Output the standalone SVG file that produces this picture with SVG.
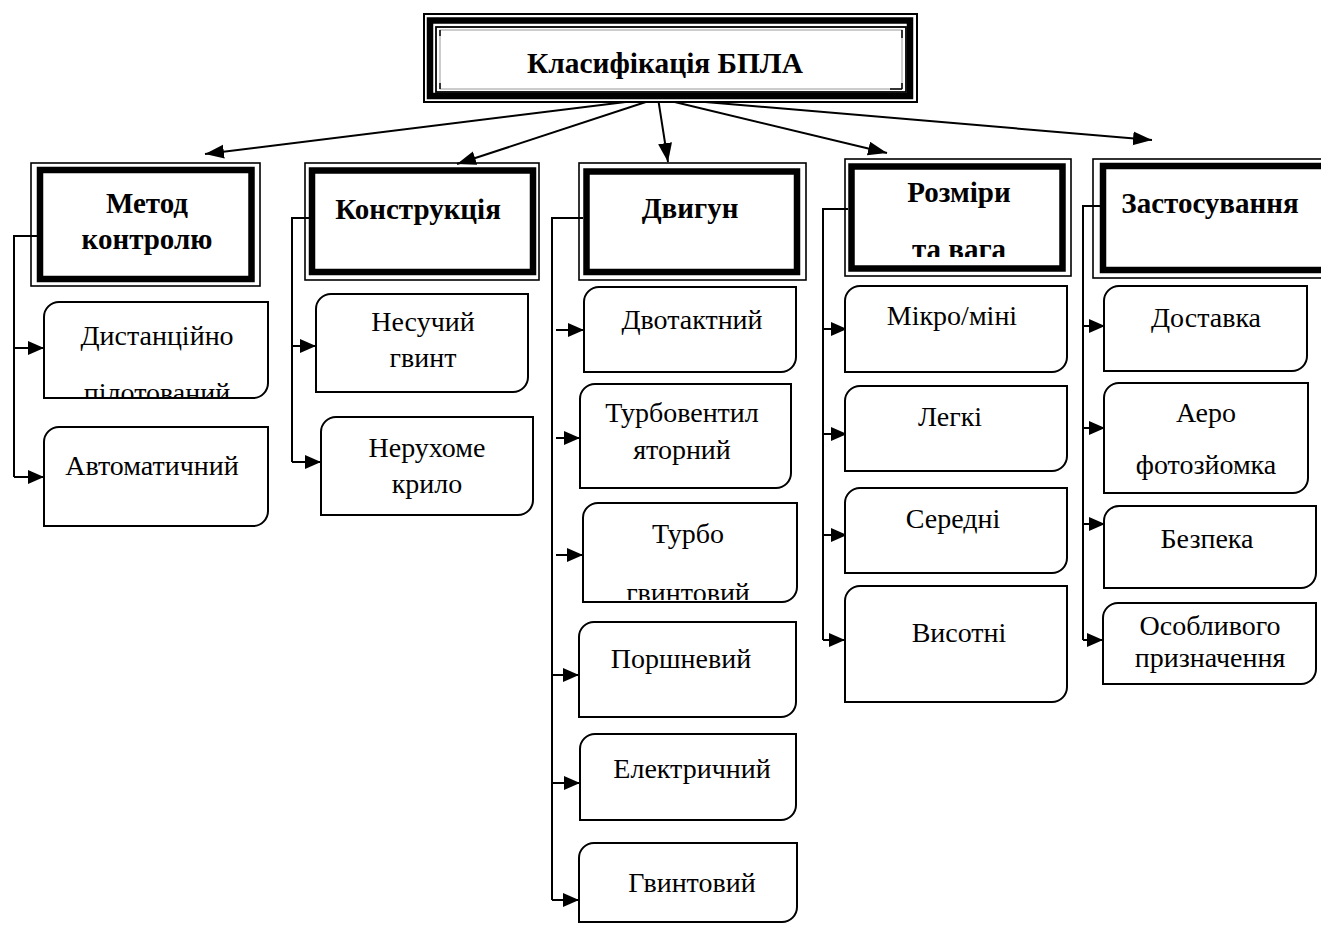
<svg xmlns="http://www.w3.org/2000/svg" width="1321" height="925" viewBox="0 0 1321 925">
<style>
  .bg{fill:#fff}
  .thin{fill:none;stroke:#000;stroke-width:1.6}
  .thick{fill:none;stroke:#000;stroke-width:6.5}
  .leaf{fill:#fff;stroke:#000;stroke-width:2}
  .conn{fill:none;stroke:#000;stroke-width:2}
  .cat{font-family:"Liberation Serif","Times New Roman",serif;font-weight:bold;font-size:29px;text-anchor:middle;fill:#000}
  .lt{font-family:"Liberation Serif","Times New Roman",serif;font-size:28px;text-anchor:middle;fill:#000}
</style>
<defs>
  <marker id="ah" markerUnits="userSpaceOnUse" markerWidth="17" markerHeight="15" refX="16" refY="7" orient="auto">
    <path d="M0,0 L16,7 L0,14 Z" fill="#000"/>
  </marker>
  <marker id="at" markerUnits="userSpaceOnUse" markerWidth="20" markerHeight="15" refX="19" refY="7" orient="auto">
    <path d="M0,0 L19,7 L0,14 Z" fill="#000"/>
  </marker>
  <clipPath id="c1"><rect x="44" y="302" width="224" height="95"/></clipPath>
  <clipPath id="c2"><rect x="583" y="503" width="214" height="97"/></clipPath>
  <clipPath id="c3"><rect x="855" y="170" width="204" height="87"/></clipPath>
</defs>
<rect class="bg" x="0" y="0" width="1321" height="925"/>

<g id="connectors">
  <line class="conn" x1="658" y1="98" x2="205" y2="154" marker-end="url(#at)"/>
  <line class="conn" x1="658" y1="98" x2="457" y2="164" marker-end="url(#at)"/>
  <line class="conn" x1="658" y1="98" x2="668" y2="162" marker-end="url(#at)"/>
  <line class="conn" x1="658" y1="98" x2="887" y2="153" marker-end="url(#at)"/>
  <line class="conn" x1="658" y1="98" x2="1152" y2="140" marker-end="url(#at)"/>

  <polyline class="conn" points="37,236 14,236 14,477"/>
  <line class="conn" x1="14" y1="348" x2="44" y2="348" marker-end="url(#ah)"/>
  <line class="conn" x1="14" y1="477" x2="44" y2="477" marker-end="url(#ah)"/>

  <polyline class="conn" points="309,218 292,218 292,462"/>
  <line class="conn" x1="292" y1="346" x2="316" y2="346" marker-end="url(#ah)"/>
  <line class="conn" x1="292" y1="462" x2="321" y2="462" marker-end="url(#ah)"/>

  <polyline class="conn" points="583,218 552,218 552,900"/>
  <line class="conn" x1="556" y1="330" x2="584" y2="330" marker-end="url(#ah)"/>
  <line class="conn" x1="556" y1="438" x2="580" y2="438" marker-end="url(#ah)"/>
  <line class="conn" x1="556" y1="555" x2="583" y2="555" marker-end="url(#ah)"/>
  <line class="conn" x1="552" y1="675" x2="579" y2="675" marker-end="url(#ah)"/>
  <line class="conn" x1="552" y1="783" x2="580" y2="783" marker-end="url(#ah)"/>
  <line class="conn" x1="552" y1="900" x2="579" y2="900" marker-end="url(#ah)"/>

  <polyline class="conn" points="848,209 823,209 823,640"/>
  <line class="conn" x1="823" y1="329" x2="847" y2="329" marker-end="url(#ah)"/>
  <line class="conn" x1="823" y1="434" x2="847" y2="434" marker-end="url(#ah)"/>
  <line class="conn" x1="823" y1="535" x2="847" y2="535" marker-end="url(#ah)"/>
  <line class="conn" x1="823" y1="640" x2="845" y2="640" marker-end="url(#ah)"/>

  <polyline class="conn" points="1100,206 1083,206 1083,640"/>
  <line class="conn" x1="1083" y1="326" x2="1105" y2="326" marker-end="url(#ah)"/>
  <line class="conn" x1="1083" y1="428" x2="1105" y2="428" marker-end="url(#ah)"/>
  <line class="conn" x1="1083" y1="524" x2="1105" y2="524" marker-end="url(#ah)"/>
  <line class="conn" x1="1083" y1="640" x2="1103" y2="640" marker-end="url(#ah)"/>
</g>

<g id="title">
  <rect x="424" y="14" width="493" height="88" fill="#fff" stroke="#000" stroke-width="2"/>
  <rect class="thick" x="430" y="20.5" width="480" height="75.5"/>
  <rect x="436" y="27" width="470" height="65" fill="none" stroke="#000" stroke-width="1.8"/>
  <rect x="440" y="30" width="462" height="59" fill="none" stroke="#999" stroke-width="1"/>
  <path d="M440,30 v6 M902,30 v8 M440,89 v-6 M902,89 h-12 M902,89 v-6" stroke="#000" stroke-width="1.5" fill="none"/>
  <text class="cat" x="665" y="73" font-size="36" textLength="276" lengthAdjust="spacingAndGlyphs">Класифікація БПЛА</text>
</g>

<g id="cat-metod">
  <rect x="31" y="163" width="229" height="123" fill="#fff" class="thin"/>
  <rect class="thick" x="40" y="170" width="211.5" height="109"/>
  <text class="cat" x="147" y="213">Метод</text>
  <text class="cat" x="147" y="249">контролю</text>
</g>
<g id="cat-konstr">
  <rect x="305" y="163" width="234" height="117" fill="#fff" class="thin"/>
  <rect class="thick" x="312" y="170.5" width="221" height="101.5"/>
  <text class="cat" x="418" y="219">Конструкція</text>
</g>
<g id="cat-dvyhun">
  <rect x="579" y="163" width="227" height="117" fill="#fff" class="thin"/>
  <rect class="thick" x="586.5" y="171.5" width="210.5" height="100.5"/>
  <text class="cat" x="690" y="218">Двигун</text>
</g>
<g id="cat-rozmiry">
  <rect x="845" y="159" width="226" height="117" fill="#fff" class="thin"/>
  <rect class="thick" x="851.5" y="166.5" width="211" height="102"/>
  <text class="cat" x="959" y="202">Розміри</text>
  <text class="cat" x="959" y="259" clip-path="url(#c3)">та вага</text>
</g>
<g id="cat-zastos">
  <rect x="1093" y="159" width="247" height="119" fill="#fff" class="thin"/>
  <rect class="thick" x="1103" y="166" width="227" height="104"/>
  <text class="cat" x="1210" y="213">Застосування</text>
</g>

<g id="leaf-dyst">
  <path class="leaf" d="M44,317 A15,15 0 0 1 59,302 L268,302 L268,383 A15,15 0 0 1 253,398 L44,398 Z"/>
  <text class="lt" x="157" y="345">Дистанційно</text>
  <text class="lt" x="157" y="402" clip-path="url(#c1)">пілотований</text>
</g>
<g id="leaf-avto">
  <path class="leaf" d="M44,442 A15,15 0 0 1 59,427 L268,427 L268,511 A15,15 0 0 1 253,526 L44,526 Z"/>
  <text class="lt" x="152" y="475">Автоматичний</text>
</g>
<g id="leaf-nesuchyi">
  <path class="leaf" d="M316,309 A15,15 0 0 1 331,294 L528,294 L528,377 A15,15 0 0 1 513,392 L316,392 Z"/>
  <text class="lt" x="423" y="331">Несучий</text>
  <text class="lt" x="423" y="367">гвинт</text>
</g>
<g id="leaf-neruh">
  <path class="leaf" d="M321,432 A15,15 0 0 1 336,417 L533,417 L533,500 A15,15 0 0 1 518,515 L321,515 Z"/>
  <text class="lt" x="427" y="457">Нерухоме</text>
  <text class="lt" x="427" y="493">крило</text>
</g>
<g id="leaf-dvotakt">
  <path class="leaf" d="M584,302 A15,15 0 0 1 599,287 L796,287 L796,357 A15,15 0 0 1 781,372 L584,372 Z"/>
  <text class="lt" x="692" y="329">Двотактний</text>
</g>
<g id="leaf-turbovent">
  <path class="leaf" d="M580,399 A15,15 0 0 1 595,384 L791,384 L791,473 A15,15 0 0 1 776,488 L580,488 Z"/>
  <text class="lt" x="682" y="422">Турбовентил</text>
  <text class="lt" x="682" y="459">яторний</text>
</g>
<g id="leaf-turbogv">
  <path class="leaf" d="M583,518 A15,15 0 0 1 598,503 L797,503 L797,587 A15,15 0 0 1 782,602 L583,602 Z"/>
  <text class="lt" x="688" y="543">Турбо</text>
  <text class="lt" x="688" y="602" clip-path="url(#c2)">гвинтовий</text>
</g>
<g id="leaf-porsh">
  <path class="leaf" d="M579,637 A15,15 0 0 1 594,622 L796,622 L796,702 A15,15 0 0 1 781,717 L579,717 Z"/>
  <text class="lt" x="681" y="668">Поршневий</text>
</g>
<g id="leaf-elektr">
  <path class="leaf" d="M580,749 A15,15 0 0 1 595,734 L796,734 L796,805 A15,15 0 0 1 781,820 L580,820 Z"/>
  <text class="lt" x="692" y="778">Електричний</text>
</g>
<g id="leaf-gvynt">
  <path class="leaf" d="M579,858 A15,15 0 0 1 594,843 L797,843 L797,907 A15,15 0 0 1 782,922 L579,922 Z"/>
  <text class="lt" x="692" y="892">Гвинтовий</text>
</g>
<g id="leaf-mikro">
  <path class="leaf" d="M845,301 A15,15 0 0 1 860,286 L1067,286 L1067,357 A15,15 0 0 1 1052,372 L845,372 Z"/>
  <text class="lt" x="952" y="325">Мікро/міні</text>
</g>
<g id="leaf-lehki">
  <path class="leaf" d="M845,401 A15,15 0 0 1 860,386 L1067,386 L1067,456 A15,15 0 0 1 1052,471 L845,471 Z"/>
  <text class="lt" x="950" y="426">Легкі</text>
</g>
<g id="leaf-seredni">
  <path class="leaf" d="M845,503 A15,15 0 0 1 860,488 L1067,488 L1067,558 A15,15 0 0 1 1052,573 L845,573 Z"/>
  <text class="lt" x="953" y="528">Середні</text>
</g>
<g id="leaf-vysotni">
  <path class="leaf" d="M845,601 A15,15 0 0 1 860,586 L1067,586 L1067,687 A15,15 0 0 1 1052,702 L845,702 Z"/>
  <text class="lt" x="959" y="642">Висотні</text>
</g>
<g id="leaf-dostavka">
  <path class="leaf" d="M1104,301 A15,15 0 0 1 1119,286 L1307,286 L1307,356 A15,15 0 0 1 1292,371 L1104,371 Z"/>
  <text class="lt" x="1206" y="327">Доставка</text>
</g>
<g id="leaf-aero">
  <path class="leaf" d="M1104,398 A15,15 0 0 1 1119,383 L1308,383 L1308,478 A15,15 0 0 1 1293,493 L1104,493 Z"/>
  <text class="lt" x="1206" y="422">Аеро</text>
  <text class="lt" x="1206" y="474">фотозйомка</text>
</g>
<g id="leaf-bezpeka">
  <path class="leaf" d="M1104,521 A15,15 0 0 1 1119,506 L1316,506 L1316,573 A15,15 0 0 1 1301,588 L1104,588 Z"/>
  <text class="lt" x="1207" y="548">Безпека</text>
</g>
<g id="leaf-osobl">
  <path class="leaf" d="M1103,618 A15,15 0 0 1 1118,603 L1316,603 L1316,669 A15,15 0 0 1 1301,684 L1103,684 Z"/>
  <text class="lt" x="1210" y="635">Особливого</text>
  <text class="lt" x="1210" y="667">призначення</text>
</g>
</svg>
